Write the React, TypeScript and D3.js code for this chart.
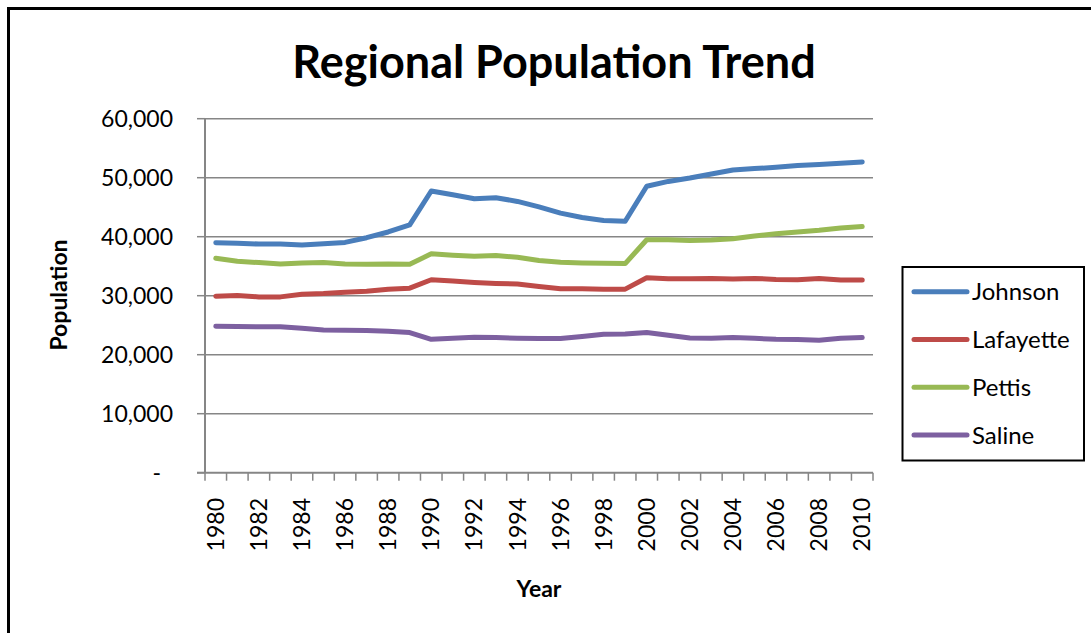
import React from 'react';
import * as d3 from 'd3';

const years = [
  1980, 1981, 1982, 1983, 1984, 1985, 1986, 1987, 1988, 1989,
  1990, 1991, 1992, 1993, 1994, 1995, 1996, 1997, 1998, 1999,
  2000, 2001, 2002, 2003, 2004, 2005, 2006, 2007, 2008, 2009, 2010
];

const johnson = [
  38970, 38900, 38750, 38750, 38580, 38800, 39030, 39830, 40800, 42000,
  47750, 47120, 46440, 46600, 45980, 45050, 43990, 43250, 42730, 42620,
  48550, 49370, 49940, 50630, 51310, 51540, 51770, 52050, 52220, 52450, 52680
];
const lafayette = [
  29920, 30030, 29800, 29800, 30260, 30370, 30600, 30770, 31110, 31280,
  32710, 32480, 32250, 32080, 31970, 31570, 31170, 31170, 31110, 31110,
  33050, 32880, 32880, 32930, 32820, 32930, 32760, 32710, 32930, 32650, 32650
];
const pettis = [
  36350, 35840, 35610, 35380, 35560, 35610, 35380, 35330, 35380, 35330,
  37090, 36870, 36700, 36810, 36520, 35950, 35670, 35560, 35500, 35440,
  39490, 39490, 39370, 39430, 39660, 40110, 40510, 40800, 41080, 41480, 41710
];
const saline = [
  24830, 24770, 24720, 24720, 24490, 24200, 24150, 24090, 23980, 23750,
  22610, 22780, 22950, 22900, 22780, 22730, 22730, 23070, 23470, 23520,
  23750, 23300, 22840, 22780, 22900, 22780, 22610, 22560, 22440, 22780, 22900
];

const seriesNames = ['Johnson', 'Lafayette', 'Pettis', 'Saline'];
const seriesValues = [johnson, lafayette, pettis, saline];
const colors = ['#4A7EBB', '#BE4B48', '#98B954', '#7D60A0'];

const yTicks = [0, 10000, 20000, 30000, 40000, 50000, 60000];
const yTickLabels = ['-', '10,000', '20,000', '30,000', '40,000', '50,000', '60,000'];

const W = 1091;
const H = 633;
const plot = { left: 205, right: 873, top: 118.7, bottom: 472.7 };
const font = 'Lato, "Open Sans", sans-serif';
const grid = '#868686';

export default function App() {
  const x = d3
    .scaleBand<number>()
    .domain(years)
    .range([plot.left, plot.right]);
  const cx = (yr: number) => (x(yr) as number) + x.bandwidth() / 2;

  const y = d3
    .scaleLinear()
    .domain([0, 60000])
    .range([plot.bottom, plot.top]);

  const line = d3
    .line<number>()
    .x((d, i) => cx(years[i]))
    .y((d) => y(d));

  // ticks sit between categories
  const boundaries = years.map((yr) => x(yr) as number).concat([plot.right]);

  return (
    <svg
      width={W}
      height={H}
      style={{ position: 'absolute', left: 0, top: 0, display: 'block', background: '#fff' }}
      fontFamily={font}
    >
      <rect x={8.5} y={8.5} width={1200} height={1000} fill="#fff" stroke="#000" strokeWidth={3} />

      <text x={554} y={78} textAnchor="middle" fontSize={45} fontWeight="bold" fill="#000">
        Regional Population Trend
      </text>

      {yTicks.slice(1).map((t) => (
        <line key={t} x1={plot.left} x2={plot.right} y1={y(t)} y2={y(t)} stroke={grid} strokeWidth={1.5} />
      ))}

      <line x1={plot.left} x2={plot.left} y1={plot.top} y2={plot.bottom} stroke={grid} strokeWidth={2} />
      {yTicks.map((t, i) => (
        <g key={t}>
          <line x1={plot.left - 8} x2={plot.left} y1={y(t)} y2={y(t)} stroke={grid} strokeWidth={1.5} />
          <text
            x={t === 0 ? 161 : 173}
            y={y(t)}
            dy="0.35em"
            textAnchor="end"
            fontSize={23}
            fill="#000"
          >
            {yTickLabels[i]}
          </text>
        </g>
      ))}

      <line x1={plot.left - 8} x2={plot.right} y1={plot.bottom} y2={plot.bottom} stroke={grid} strokeWidth={2} />
      {boundaries.map((b, i) => (
        <line key={i} x1={b} x2={b} y1={plot.bottom} y2={plot.bottom + 8} stroke={grid} strokeWidth={1.5} />
      ))}
      {years.map((yr, i) =>
        i % 2 === 0 ? (
          <text
            key={yr}
            transform={`translate(${cx(yr)},498) rotate(-90)`}
            dy="0.35em"
            textAnchor="end"
            fontSize={23}
            fill="#000"
          >
            {yr}
          </text>
        ) : null
      )}

      {seriesValues.map((vals, i) => (
        <path
          key={seriesNames[i]}
          d={line(vals) || ''}
          fill="none"
          stroke={colors[i]}
          strokeWidth={5}
          strokeLinejoin="round"
          strokeLinecap="round"
        />
      ))}

      <text
        transform="translate(59,295) rotate(-90)"
        dy="0.35em"
        textAnchor="middle"
        fontSize={23}
        fontWeight="bold"
        fill="#000"
      >
        Population
      </text>
      <text x={539} y={597} textAnchor="middle" fontSize={23} fontWeight="bold" fill="#000">
        Year
      </text>

      <rect x={902.5} y={267} width={181.5} height={193.5} fill="#fff" stroke="#000" strokeWidth={2} />
      {seriesNames.map((name, i) => {
        const ly = 291.7 + i * 47.8;
        return (
          <g key={name}>
            <line x1={914} x2={967} y1={ly} y2={ly} stroke={colors[i]} strokeWidth={5} strokeLinecap="round" />
            <text x={972} y={ly} dy="0.35em" fontSize={24} fill="#000">
              {name}
            </text>
          </g>
        );
      })}
    </svg>
  );
}
